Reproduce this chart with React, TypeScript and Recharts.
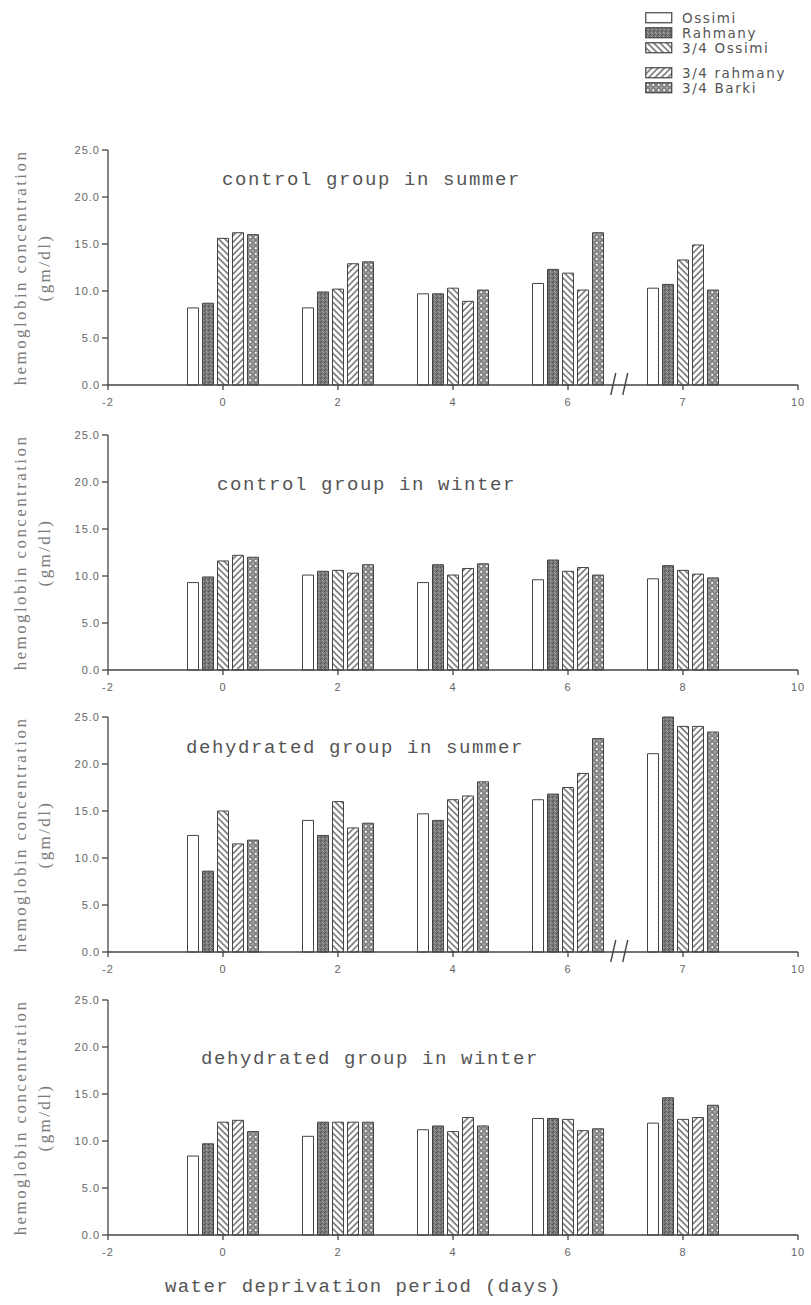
import React from 'react'
import { BarChart, Bar, XAxis, YAxis, ReferenceDot } from 'recharts'

// =====================================================
// DATA (hemoglobin, gm/dl)
// =====================================================

const days = [0, 2, 4, 6, 8]
const dayTicks = [-2, 0, 2, 4, 6, 8, 10]
const hbTicks = [0, 5, 10, 15, 20, 25]

// control group in summer
const controlSummerOssimi = [8.2, 8.2, 9.7, 10.8, 10.3]
const controlSummerRahmany = [8.7, 9.9, 9.7, 12.3, 10.7]
const controlSummerOssimi34 = [15.6, 10.2, 10.3, 11.9, 13.3]
const controlSummerRahmany34 = [16.2, 12.9, 8.9, 10.1, 14.9]
const controlSummerBarki34 = [16.0, 13.1, 10.1, 16.2, 10.1]

// control group in winter
const controlWinterOssimi = [9.3, 10.1, 9.3, 9.6, 9.7]
const controlWinterRahmany = [9.9, 10.5, 11.2, 11.7, 11.1]
const controlWinterOssimi34 = [11.6, 10.6, 10.1, 10.5, 10.6]
const controlWinterRahmany34 = [12.2, 10.3, 10.8, 10.9, 10.2]
const controlWinterBarki34 = [12.0, 11.2, 11.3, 10.1, 9.8]

// dehydrated group in summer
const dehydSummerOssimi = [12.4, 14.0, 14.7, 16.2, 21.1]
const dehydSummerRahmany = [8.6, 12.4, 14.0, 16.8, 25.0]
const dehydSummerOssimi34 = [15.0, 16.0, 16.2, 17.5, 24.0]
const dehydSummerRahmany34 = [11.5, 13.2, 16.6, 19.0, 24.0]
const dehydSummerBarki34 = [11.9, 13.7, 18.1, 22.7, 23.4]

// dehydrated group in winter
const dehydWinterOssimi = [8.4, 10.5, 11.2, 12.4, 11.9]
const dehydWinterRahmany = [9.7, 12.0, 11.6, 12.4, 14.6]
const dehydWinterOssimi34 = [12.0, 12.0, 11.0, 12.3, 12.3]
const dehydWinterRahmany34 = [12.2, 12.0, 12.5, 11.1, 12.5]
const dehydWinterBarki34 = [11.0, 12.0, 11.6, 11.3, 13.8]

// =====================================================
// STYLE
// =====================================================

const INK = '#444'
const TEXT = '#666'
const MONO = "'Liberation Mono', 'DejaVu Sans Mono', monospace"

const SERIES = [
  { key: 'ossimi', name: 'Ossimi', fill: '#ffffff' },
  { key: 'rahmany', name: 'Rahmany', fill: 'url(#pat-rahmany)' },
  { key: 'ossimi34', name: '3/4 Ossimi', fill: 'url(#pat-ossimi34)' },
  { key: 'rahmany34', name: '3/4 rahmany', fill: 'url(#pat-rahmany34)' },
  { key: 'barki34', name: '3/4 Barki', fill: 'url(#pat-barki34)' }
]

function buildRows(values: number[][]) {
  return days.map((day, i) => {
    const row: Record<string, number> = { day }
    SERIES.forEach((s, j) => {
      row[s.key] = values[j][i]
    })
    return row
  })
}

const PANELS = [
  {
    title: 'control group in summer',
    rows: buildRows([controlSummerOssimi, controlSummerRahmany, controlSummerOssimi34, controlSummerRahmany34, controlSummerBarki34]),
    broken: true,
    top: 130,
    titleLeft: 222,
    titleTop: 50
  },
  {
    title: 'control group in winter',
    rows: buildRows([controlWinterOssimi, controlWinterRahmany, controlWinterOssimi34, controlWinterRahmany34, controlWinterBarki34]),
    broken: false,
    top: 415,
    titleLeft: 217,
    titleTop: 70
  },
  {
    title: 'dehydrated group in summer',
    rows: buildRows([dehydSummerOssimi, dehydSummerRahmany, dehydSummerOssimi34, dehydSummerRahmany34, dehydSummerBarki34]),
    broken: true,
    top: 697,
    titleLeft: 186,
    titleTop: 51
  },
  {
    title: 'dehydrated group in winter',
    rows: buildRows([dehydWinterOssimi, dehydWinterRahmany, dehydWinterOssimi34, dehydWinterRahmany34, dehydWinterBarki34]),
    broken: false,
    top: 980,
    titleLeft: 201,
    titleTop: 79
  }
]

// =====================================================
// PIECES
// =====================================================

function PatternDefs() {
  return (
    <svg width={0} height={0} style={{ position: 'absolute' }}>
      <defs>
        <pattern id="pat-rahmany" patternUnits="userSpaceOnUse" width={4} height={4}>
          <rect width={4} height={4} fill="#7c7c7c" />
          <rect x={0} y={0} width={1} height={1} fill="#4a4a4a" />
          <rect x={2} y={1} width={1} height={1} fill="#a8a8a8" />
          <rect x={1} y={3} width={1} height={1} fill="#555" />
          <rect x={3} y={2} width={1} height={1} fill="#999" />
          <rect x={1} y={1} width={1} height={1} fill="#666" />
        </pattern>
        <pattern id="pat-ossimi34" patternUnits="userSpaceOnUse" width={4.5} height={4.5} patternTransform="rotate(-45)">
          <rect width={4.5} height={4.5} fill="#fff" />
          <line x1={1} y1={0} x2={1} y2={4.5} stroke="#555" strokeWidth={1.3} />
        </pattern>
        <pattern id="pat-rahmany34" patternUnits="userSpaceOnUse" width={4.5} height={4.5} patternTransform="rotate(45)">
          <rect width={4.5} height={4.5} fill="#fff" />
          <line x1={1} y1={0} x2={1} y2={4.5} stroke="#555" strokeWidth={1.3} />
        </pattern>
        <pattern id="pat-barki34" patternUnits="userSpaceOnUse" width={5.5} height={5.5}>
          <rect width={5.5} height={5.5} fill="#a0a0a0" />
          <circle cx={2.75} cy={2.75} r={1.9} fill="#fff" stroke="#444" strokeWidth={0.9} />
        </pattern>
      </defs>
    </svg>
  )
}

function BreedLegend() {
  const rowTops = [11, 26, 41, 66, 81]
  return (
    <div style={{ position: 'absolute', left: 645, top: 0 }}>
      {SERIES.map((s, i) => (
        <div key={s.key} style={{ position: 'absolute', top: rowTops[i], left: 0, display: 'flex', alignItems: 'center', whiteSpace: 'nowrap' }}>
          <svg width={28} height={12}>
            <rect x={0.75} y={0.75} width={26} height={10} fill={s.fill} stroke={INK} strokeWidth={1.2} />
          </svg>
          <span style={{ marginLeft: 9, fontFamily: "'DejaVu Sans', sans-serif", fontSize: 13.5, letterSpacing: 1.6, color: '#555', lineHeight: '14px' }}>
            {s.name}
          </span>
        </div>
      ))}
    </div>
  )
}

function HbLabel({ viewBox }: any) {
  const cy = viewBox.y + viewBox.height / 2
  const x = viewBox.x
  return (
    <g fill="#7a7a7a" fontFamily="'Liberation Serif', 'DejaVu Serif', serif" fontSize={17} letterSpacing={2.4} textAnchor="middle">
      <text transform={`translate(${x - 28},${cy}) rotate(-90)`} dy="0.35em">hemoglobin concentration</text>
      <text transform={`translate(${x - 4},${cy}) rotate(-90)`} dy="0.35em">(gm/dl)</text>
    </g>
  )
}

function AxisBreak({ cx, cy }: any) {
  return (
    <g stroke={INK} strokeWidth={1.4}>
      <line x1={cx - 9} y1={cy + 10} x2={cx - 4} y2={cy - 12} />
      <line x1={cx + 3} y1={cy + 10} x2={cx + 8} y2={cy - 12} />
    </g>
  )
}

function Panel({ title, rows, broken, top, titleLeft, titleTop }: any) {
  const tickStyle = { fill: TEXT, fontSize: 11, fontFamily: "'Liberation Sans', sans-serif", letterSpacing: 1 }
  return (
    <div style={{ position: 'absolute', left: 0, top, width: 811, height: 285 }}>
      <BarChart width={811} height={285} data={rows} margin={{ top: 20, right: 13, bottom: 0, left: 48 }} barGap={4}>
        <XAxis
          type="number"
          dataKey="day"
          domain={[-2, 10]}
          ticks={dayTicks}
          interval={0}
          height={30}
          stroke={INK}
          strokeWidth={1.3}
          tickSize={5}
          tickMargin={8}
          tick={tickStyle}
          tickFormatter={(v: number) => (broken && v === 8 ? '7' : String(v))}
        />
        <YAxis
          type="number"
          domain={[0, 25]}
          ticks={hbTicks}
          interval={0}
          width={60}
          stroke={INK}
          strokeWidth={1.3}
          tickSize={6}
          tickMargin={2}
          tick={tickStyle}
          tickFormatter={(v: number) => v.toFixed(1)}
          label={<HbLabel />}
        />
        {SERIES.map(s => (
          <Bar
            key={s.key}
            dataKey={s.key}
            name={s.name}
            fill={s.fill}
            stroke={INK}
            strokeWidth={1}
            barSize={11}
            isAnimationActive={false}
          />
        ))}
        {broken && <ReferenceDot x={6.9} y={0} shape={AxisBreak} />}
      </BarChart>
      <div
        style={{
          position: 'absolute',
          left: titleLeft,
          top: titleTop,
          transform: 'translateY(-50%)',
          fontFamily: MONO,
          fontSize: 19,
          letterSpacing: 1.6,
          color: '#555',
          whiteSpace: 'nowrap'
        }}
      >
        {title}
      </div>
    </div>
  )
}

export default function App() {
  return (
    <div style={{ position: 'absolute', left: 0, top: 0, width: 811, height: 1305, background: '#fff', overflow: 'hidden' }}>
      <PatternDefs />
      <BreedLegend />
      {PANELS.map(p => (
        <Panel key={p.title} {...p} />
      ))}
      <div
        style={{
          position: 'absolute',
          left: 165,
          top: 1287,
          transform: 'translateY(-50%)',
          fontFamily: MONO,
          fontSize: 19,
          letterSpacing: 1.4,
          color: '#555',
          whiteSpace: 'nowrap'
        }}
      >
        water deprivation period (days)
      </div>
    </div>
  )
}
